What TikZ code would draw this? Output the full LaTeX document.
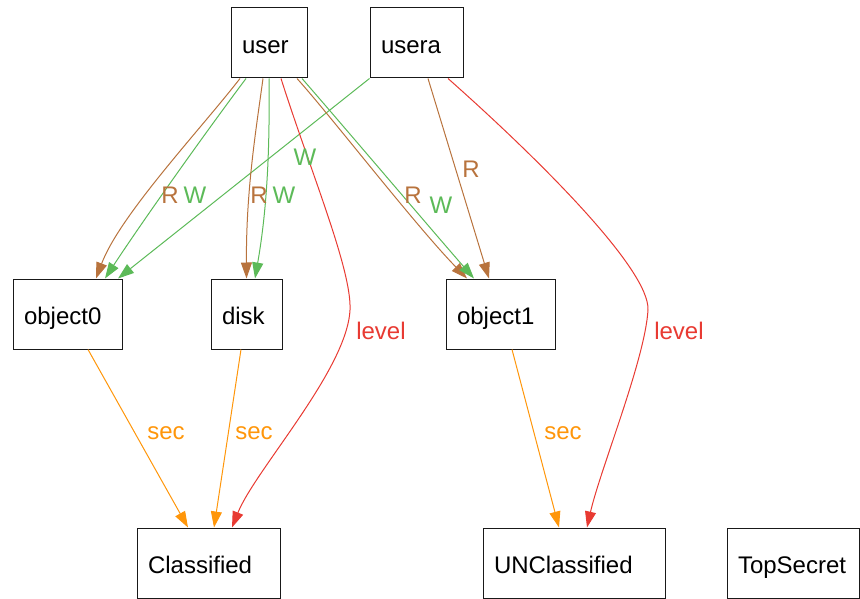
\documentclass[tikz,border=0pt]{standalone}
\usepackage{fontspec}
\setmainfont{Liberation Sans}
\usetikzlibrary{arrows.meta}
\definecolor{cbrown}{RGB}{184,115,61}
\definecolor{cgreen}{RGB}{92,186,88}
\definecolor{cred}{RGB}{232,58,50}
\definecolor{corange}{RGB}{255,150,10}
\begin{document}
\begin{tikzpicture}[x=1pt,y=-1pt,
  font=\fontsize{24}{28}\selectfont,
  box/.style={draw=black!90, line width=1pt, rectangle, minimum height=70pt,
    inner xsep=11pt, inner ysep=0pt, align=left, text height=21pt, text depth=0pt},
  edge/.style={line width=1pt, -{Triangle[length=16pt,width=11pt]}},
  lbl/.style={inner sep=0pt}]
\useasboundingbox (0,0) rectangle (860,599);
% nodes
\node[box, text width=54pt]  (user)   at (269,43)    {user};
\node[box, text width=71pt]  (usera)  at (416.5,43)  {usera};
\node[box, text width=87pt]  (object0) at (67.5,314) {object0};
\node[box, text width=49pt]  (disk)   at (246.5,314) {disk};
\node[box, text width=87pt]  (object1) at (500.5,314) {object1};
\node[box, text width=121pt] (classified) at (208.5,563) {Classified};
\node[box, text width=160pt] (unclassified) at (574,563) {UNClassified};
\node[box, text width=110pt] (topsecret) at (793,563) {TopSecret};
% edges user -> object0
\draw[edge, cbrown] ([xshift=-29pt]user.south) .. controls (200,130) and (120,215) .. ([xshift=28.5pt]object0.north);
\draw[edge, cgreen] ([xshift=-23pt]user.south) .. controls (200,140) and (140,225) .. ([xshift=37.5pt]object0.north);
\draw[edge, cgreen] (usera.south west) -- ([xshift=50.5pt]object0.north);
% user -> disk
\draw[edge, cbrown] ([xshift=-6pt]user.south) .. controls (256,130) and (246,190) .. ([xshift=0pt]disk.north);
\draw[edge, cgreen] ([xshift=0pt]user.south) .. controls (270,160) and (266,215) .. ([xshift=8.5pt]disk.north);
% user -> Classified (level)
\coordinate (bend1) at (350,310);
\draw[edge, cred] ([xshift=12pt]user.south) .. controls (310,170) and (352,270) .. (bend1)
  .. controls (347,370) and (255,470) .. ([xshift=23.5pt]classified.north);
% user -> object1
\draw[edge, cbrown] ([xshift=28pt]user.south) .. controls (330,115) and (415,225) .. ([xshift=-33.5pt]object1.north);
\draw[edge, cgreen] ([xshift=33pt]user.south) .. controls (340,122) and (430,228) .. ([xshift=-26.5pt]object1.north);
% usera -> object1
\draw[edge, cbrown] ([xshift=11.5pt]usera.south) -- ([xshift=-11.5pt]object1.north);
% usera -> UNClassified (level)
\coordinate (bend2) at (648,310);
\draw[edge, cred] ([xshift=31.5pt]usera.south) .. controls (540,160) and (650,270) .. (bend2)
  .. controls (645,360) and (600,470) .. ([xshift=13pt]unclassified.north);
% sec edges
\draw[edge, corange] ([xshift=20.5pt]object0.south) -- ([xshift=-20.5pt]classified.north);
\draw[edge, corange] ([xshift=-5.5pt]disk.south) -- ([xshift=5.5pt]classified.north);
\draw[edge, corange] ([xshift=11.5pt]object1.south) -- ([xshift=-15pt]unclassified.north);
% labels
\node[lbl, text=cbrown] (l1) at (170,195) {R};
\node[lbl, text=cgreen] (l2) at (195,195) {W};
\node[lbl, text=cbrown] (l3) at (259,195) {R};
\node[lbl, text=cgreen] (l4) at (284,195) {W};
\node[lbl, text=cgreen] (l5) at (305,157) {W};
\node[lbl, text=cbrown] (l6) at (413,195) {R};
\node[lbl, text=cgreen] (l7) at (441,205) {W};
\node[lbl, text=cbrown] (l8) at (471,169) {R};
\node[lbl, text=cred] (l9) at (381,331) {level};
\node[lbl, text=cred] (l10) at (679,331) {level};
\node[lbl, text=corange] (l11) at (166,433) {sec};
\node[lbl, text=corange] (l12) at (254,433) {sec};
\node[lbl, text=corange] (l13) at (563,433) {sec};
\end{tikzpicture}
\end{document}
